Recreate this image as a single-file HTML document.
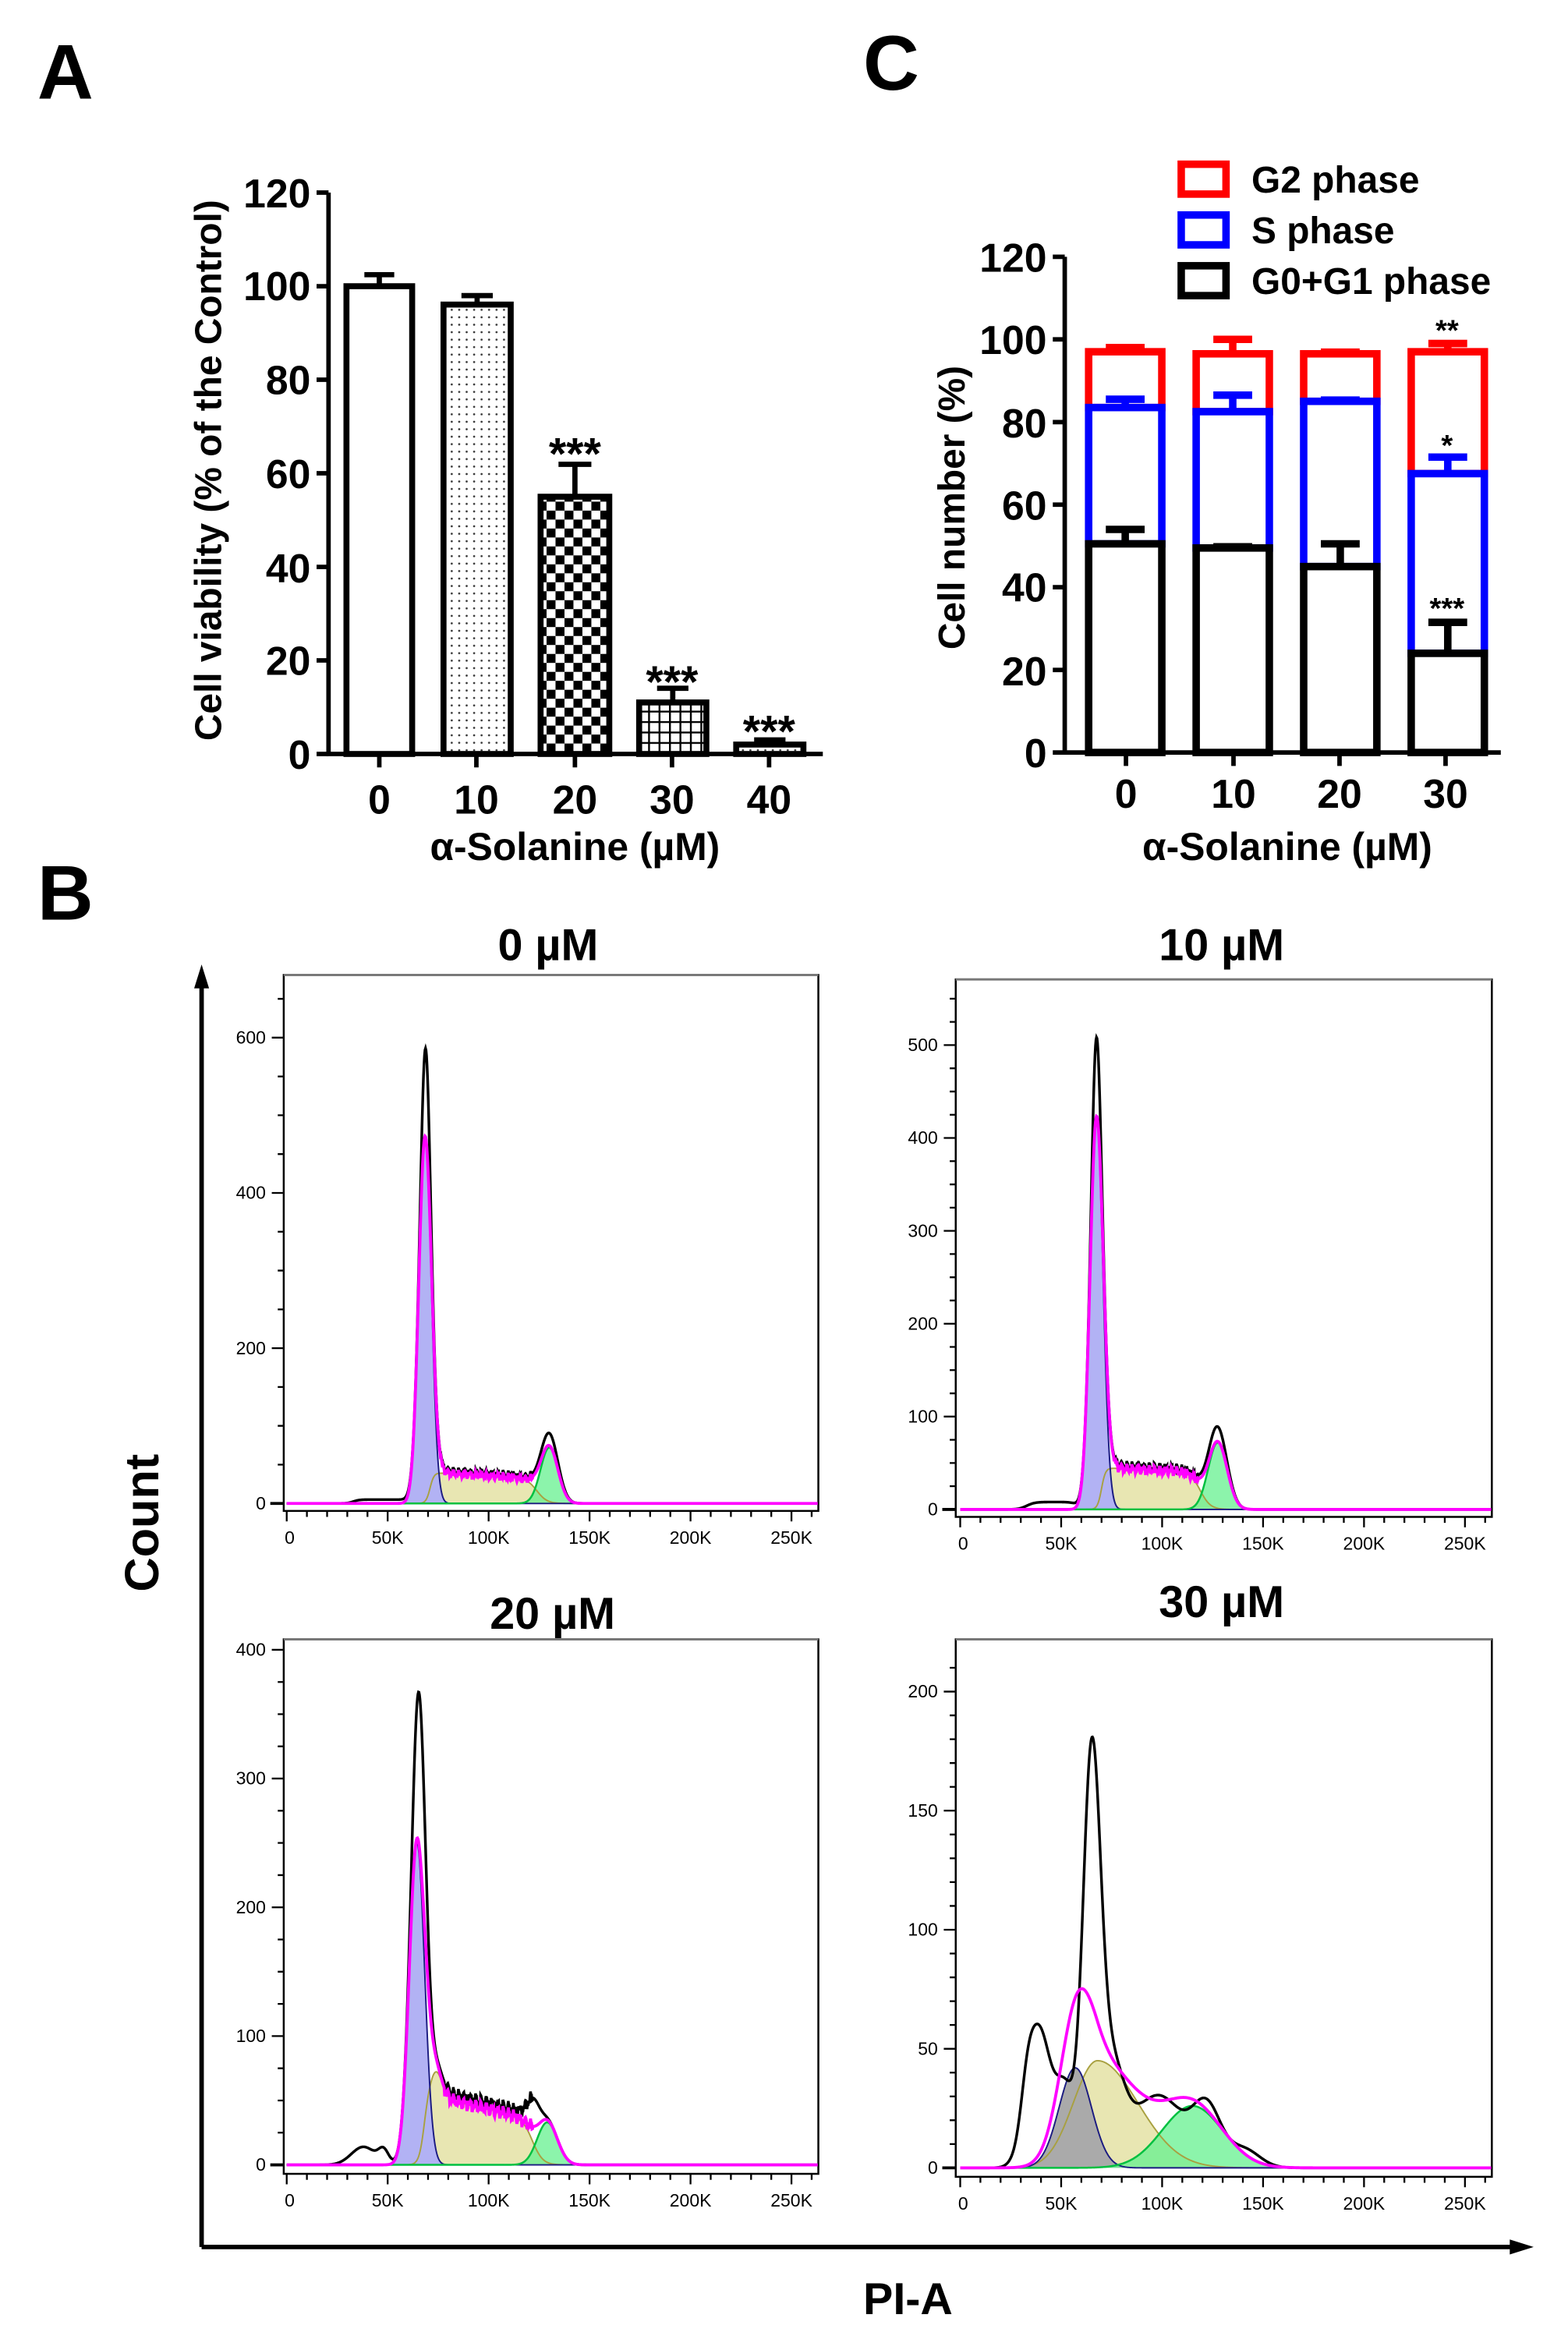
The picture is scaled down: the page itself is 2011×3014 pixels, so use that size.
<!DOCTYPE html>
<html><head><meta charset="utf-8"><style>
html,body{margin:0;padding:0;background:#fff;}
svg{display:block;}
text{font-family:"Liberation Sans",Arial,sans-serif;}
</style></head><body>
<svg id="s" width="2011" height="3014" viewBox="0 0 1050 1574" preserveAspectRatio="none" xmlns="http://www.w3.org/2000/svg">
<defs>
<pattern id="dots" width="5" height="5" patternUnits="userSpaceOnUse"><circle cx="2.5" cy="2.5" r="0.7" fill="#333"/></pattern>
<pattern id="chk" width="12" height="12" patternUnits="userSpaceOnUse"><rect width="12" height="12" fill="#fff"/><rect x="0" y="0" width="6" height="6" fill="#000"/><rect x="6" y="6" width="6" height="6" fill="#000"/></pattern>
<pattern id="grid" width="7" height="7" patternUnits="userSpaceOnUse"><rect width="7" height="7" fill="#fff"/><path d="M0 0.6H7M0.6 0V7" stroke="#000" stroke-width="1.3"/></pattern>
</defs>
<rect width="1050" height="1574" fill="#fff"/>
<g font-weight="bold">
<text x="25" y="66" font-size="52">A</text>
<text x="25" y="616" font-size="52">B</text>
<text x="578" y="60" font-size="52">C</text>
</g>

<!-- Panel A -->
<g font-weight="bold" font-size="27">
<g stroke="#000" stroke-width="3" fill="none">
<path d="M220 129V505H551"/>
<path d="M212 129H220M212 191.7H220M212 254.3H220M212 317H220M212 379.7H220M212 442.3H220M212 505H220"/>
<path d="M254 505V514M319 505V514M385 505V514M450 505V514M515 505V514"/>
</g>
<g text-anchor="end">
<text x="208" y="139">120</text><text x="208" y="201">100</text><text x="208" y="264">80</text><text x="208" y="327">60</text><text x="208" y="390">40</text><text x="208" y="452">20</text><text x="208" y="515">0</text>
</g>
<g text-anchor="middle">
<text x="254" y="545">0</text><text x="319" y="545">10</text><text x="385" y="545">20</text><text x="450" y="545">30</text><text x="515" y="545">40</text>
</g>
<g stroke="#000" stroke-width="3.5">
<path d="M254 191.7V184M244 184H264"/>
<path d="M319.5 204V198M309 198H330"/>
<path d="M385 332.7V311M374 311H396"/>
<path d="M450.5 470.5V461M440 461H461"/>
<path d="M515.5 498.7V495.6M505 495.6H526"/>
</g>
<g stroke="#000" stroke-width="4">
<rect x="232" y="191.7" width="44" height="313.3" fill="#fff"/>
<rect x="297" y="204" width="45" height="301" fill="url(#dots)"/>
<rect x="362" y="332.7" width="46" height="172.3" fill="url(#chk)"/>
<rect x="428" y="470.5" width="45" height="34.5" fill="url(#grid)"/>
<rect x="493" y="498.7" width="45" height="6.3" fill="url(#dots)"/>
</g>
<g text-anchor="middle" font-size="30">
<text x="385" y="314">***</text><text x="450" y="467">***</text><text x="515" y="500">***</text>
</g>
<text transform="translate(148,315) rotate(-90)" text-anchor="middle" font-size="25">Cell viability (% of the Control)</text>
<text x="385" y="576" text-anchor="middle" font-size="26">α-Solanine (µM)</text>
</g>

<!-- Panel C -->
<g font-weight="bold" font-size="27">
<g stroke="#000" stroke-width="3" fill="none">
<path d="M713 172V504H1005"/>
<path d="M705 172H713M705 227.3H713M705 282.7H713M705 338H713M705 393.3H713M705 448.7H713M705 504H713"/>
<path d="M754 504V513M826 504V513M897 504V513M968 504V513"/>
</g>
<g text-anchor="end">
<text x="701" y="182">120</text><text x="701" y="237">100</text><text x="701" y="293">80</text><text x="701" y="348">60</text><text x="701" y="403">40</text><text x="701" y="459">20</text><text x="701" y="514">0</text>
</g>
<g text-anchor="middle">
<text x="754" y="541">0</text><text x="826" y="541">10</text><text x="897" y="541">20</text><text x="968" y="541">30</text>
</g>
<g id="cbars" stroke-width="5" fill="#fff"></g>
<g text-anchor="middle" font-size="20">
<text x="969" y="228">**</text><text x="969" y="305">*</text><text x="969" y="414">***</text>
</g>
<g stroke-width="5" fill="#fff">
<rect x="791" y="110" width="30" height="20" stroke="#f00"/>
<rect x="791" y="144" width="30" height="20" stroke="#00f"/>
<rect x="791" y="178" width="30" height="20" stroke="#000"/>
</g>
<g font-size="25">
<text x="838" y="129">G2 phase</text><text x="838" y="163">S phase</text><text x="838" y="197">G0+G1 phase</text>
</g>
<text transform="translate(646,340) rotate(-90)" text-anchor="middle" font-size="25">Cell number (%)</text>
<text x="862" y="576" text-anchor="middle" font-size="26">α-Solanine (µM)</text>
</g>

<!-- Panel B big axes -->
<g stroke="#000" stroke-width="3" fill="none"><path d="M135 1505V656M135 1505H1016"/></g>
<path d="M135 646L130 662H140Z" fill="#000"/>
<path d="M1027 1505L1011 1500V1510Z" fill="#000"/>
<g font-weight="bold">
<text transform="translate(106,1020) rotate(-90)" text-anchor="middle" font-size="32">Count</text>
<text x="608" y="1550" text-anchor="middle" font-size="30">PI-A</text>
<g text-anchor="middle" font-size="30">
<text x="367" y="643">0 µM</text><text x="818" y="643">10 µM</text><text x="370" y="1091">20 µM</text><text x="818" y="1083">30 µM</text>
</g>
</g>
<g id="hists"></g>
</svg>
<script>
(function(){
var NS="http://www.w3.org/2000/svg";
function el(p,t,a,txt){var e=document.createElementNS(NS,t);for(var k in a)e.setAttribute(k,a[k]);if(txt!==undefined)e.textContent=txt;p.appendChild(e);return e;}
var cb=document.getElementById('cbars');
var y0=504,k=2.767;
function Y(v){return y0-v*k;}
var bars=[[729,50.5,3.5,83.5,2,97,1],[801,49.5,0.3,82.5,4,96.5,3.5],[873,45,5.5,85,0.3,96.5,0.4],[945,24,7.5,67.5,4,97,2]];
bars.forEach(function(b){var x=b[0],w=49,c=x+w/2;
 el(cb,'path',{d:'M'+c+' '+Y(b[5])+'V'+Y(b[5]+b[6])+'M'+(c-13)+' '+Y(b[5]+b[6])+'H'+(c+13),stroke:'#f00',fill:'none'});
 el(cb,'rect',{x:x,y:Y(b[5]),width:w,height:Y(b[3])-Y(b[5]),stroke:'#f00'});
 el(cb,'path',{d:'M'+c+' '+Y(b[3])+'V'+Y(b[3]+b[4])+'M'+(c-13)+' '+Y(b[3]+b[4])+'H'+(c+13),stroke:'#00f',fill:'none'});
 el(cb,'rect',{x:x,y:Y(b[3]),width:w,height:Y(b[1])-Y(b[3]),stroke:'#00f'});
 el(cb,'path',{d:'M'+c+' '+Y(b[1])+'V'+Y(b[1]+b[2])+'M'+(c-13)+' '+Y(b[1]+b[2])+'H'+(c+13),stroke:'#000',fill:'none'});
 el(cb,'rect',{x:x,y:Y(b[1]),width:w,height:y0-Y(b[1]),stroke:'#000'});
});
function G(x,m,s,h){return h*Math.exp(-0.5*Math.pow((x-m)/s,2));}
function sg(z){return 1/(1+Math.exp(-z));}
function pl(x,a,b,h1,h2,s1,s2){var t=Math.min(1,Math.max(0,(x-a)/(b-a)));return (h1+(h2-h1)*t)*sg((x-a)/s1)*sg((b-x)/s2);}
function nz(x){return 3*Math.sin(x*2.3)+2*Math.sin(x*5.1+1)+1.5*Math.sin(x*9.7);}
var hg=document.getElementById('hists');
var P=[
{L:190,R:548,T:653,B:1012,x0:192,y0:1007,ky:0.52,ymax:650,maj:200,min:50,
 blue:function(x){return G(x,68.5,3.1,470);},grey:function(x){return G(x,73,2,60);},
 yel:function(x){return pl(x,71,124,40,32,1.0,2.5);},grn:function(x){return G(x,130,4.3,72);},
 noise:function(x){return (x>76&&x<122)?nz(x):0;},
 extra:function(x){return G(x,69,1.9,115)+G(x,130,4.3,16)+5*sg((x-33)/1.5)*sg((62-x)/1.5)+3*sg((x-74)/1)*sg((122-x)/2);}},
{L:640,R:999,T:656,B:1016,x0:643,y0:1011,ky:0.622,ymax:560,maj:100,min:25,
 blue:function(x){return G(x,67.5,3.2,420);},grey:function(x){return G(x,73,2,55);},
 yel:function(x){return pl(x,70,119,45,40,1.0,2.5);},grn:function(x){return G(x,127.5,4.7,72);},
 noise:function(x){return (x>76&&x<118)?nz(x):0;},
 extra:function(x){return G(x,67.5,1.9,85)+G(x,127,4.3,16)+8*sg((x-33)/2)*sg((58-x)/1.5)+3*sg((x-74)/1)*sg((120-x)/2);}},
{L:190,R:548,T:1098,B:1456,x0:192,y0:1450,ky:0.8625,ymax:400,maj:100,min:25,
 blue:function(x){return G(x,64.5,3.8,250);},grey:function(x){return G(x,69.5,2.5,45);},
 yel:function(x){return pl(x,68,122,55,35,1.3,2.5)+G(x,74,3,20);},grn:function(x){return G(x,129,5,33);},
 noise:function(x){return (x>78&&x<122)?nz(x):0;},
 extra:function(x){return G(x,66,2.8,120)+G(x,122,3,18)+G(x,38,6,14)+G(x,48,2.5,10)+5*sg((x-75)/1)*sg((125-x)/2);}},
{L:640,R:999,T:1098,B:1458,x0:643,y0:1452,ky:1.595,ymax:215,maj:50,min:10,
 blue:function(x){return G(x,57,8,42);},grey:function(x){return G(x,57,8,42);},
 yel:function(x){return x<68?G(x,68,12,45):G(x,68,20,45);},grn:function(x){return G(x,115,15,26);},
 noise:function(x){return 0;},
 black:function(x){return G(x,39,6,58)+G(x,33,3,12)+G(x,52,4.5,30)+G(x,65,4.3,160)+G(x,74,7,45)+G(x,90,8,12)+G(x,102,10,25)+G(x,122,7,25)+G(x,140,8,8);}}
];
P.forEach(function(p,idx){
 var kx=1.352;
 function X(v){return p.x0+v*kx;} function YY(v){return p.y0-v*p.ky;}
 var xs=[];for(var v=0;v<=263;v+=0.25)xs.push(v);
 function line(f){return xs.map(function(v,i){return (i?'L':'M')+X(v).toFixed(2)+' '+Math.max(p.T+2,YY(f(v))).toFixed(2);}).join('');}
 function area(f,a,b){var s='M'+X(a)+' '+p.y0;for(var v=a;v<=b;v+=0.25)s+='L'+X(v).toFixed(2)+' '+YY(f(v)).toFixed(2);return s+'L'+X(b)+' '+p.y0+'Z';}
 var g=el(hg,'g',{});
 el(g,'rect',{x:p.L,y:p.T,width:p.R-p.L,height:p.B-p.T,fill:'#fff',stroke:'#000','stroke-width':1.3});
 el(g,'path',{d:'M'+p.L+' '+p.T+'H'+p.R,stroke:'#777','stroke-width':1.5});
 el(g,'path',{d:area(p.yel,20,200),fill:'#e8e6b2'});
 el(g,'path',{d:area(p.grey,20,200),fill:'#aaaaaa'});
 if(idx<3)el(g,'path',{d:area(p.blue,20,200),fill:'#b2b2f4'});
 el(g,'path',{d:area(p.grn,20,200),fill:'#66f08f','fill-opacity':0.75});
 el(g,'path',{d:line(p.yel),fill:'none',stroke:'#a8a040','stroke-width':1});
 el(g,'path',{d:line(p.blue),fill:'none',stroke:'#1a1a80','stroke-width':1});
 el(g,'path',{d:line(p.grn),fill:'none',stroke:'#00c040','stroke-width':1.3});
 var mag=function(x){return p.blue(x)+p.yel(x)+p.grn(x)+p.noise(x);};
 var blk=p.black?p.black:function(x){return mag(x)+p.extra(x);};
 el(g,'path',{d:line(blk),fill:'none',stroke:'#000','stroke-width':1.8});
 el(g,'path',{d:line(mag),fill:'none',stroke:'#ff00ff','stroke-width':2});
 var d='';
 for(var v=0;v<=260;v+=10){var xx=X(v);d+='M'+xx+' '+p.B+'V'+(p.B+(v%50==0?7:4));}
 for(var c=0;c<=p.ymax;c+=p.min){var yy=YY(c);if(yy<p.T)break;d+='M'+p.L+' '+yy+'H'+(p.L-(c%p.maj==0?8:4));}
 el(g,'path',{d:d,stroke:'#000','stroke-width':1.2,fill:'none'});
 el(g,'path',{d:'M'+(p.L-9)+' '+p.y0+'H'+p.L,stroke:'#000','stroke-width':2});
 var lab=['0','50K','100K','150K','200K','250K'];
 lab.forEach(function(t,i){el(g,'text',{x:X(i*50)+(i?0:2),y:p.B+22,'text-anchor':'middle','font-size':12},t);});
 for(var c2=0;c2<=p.ymax;c2+=p.maj){var y2=YY(c2);if(y2<p.T)break;el(g,'text',{x:p.L-12,y:y2+4,'text-anchor':'end','font-size':12},String(c2));}
});
})();
</script>
</body></html>
